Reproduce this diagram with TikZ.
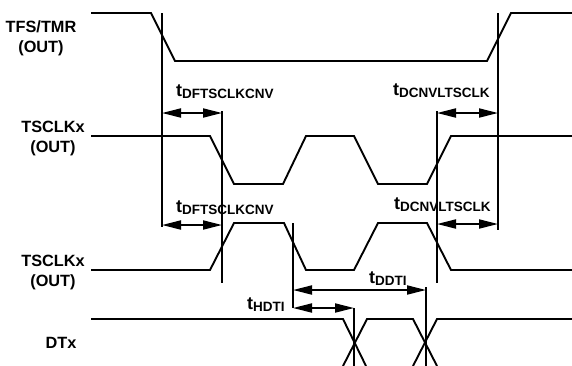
\documentclass[tikz,border=0pt]{standalone}
\usepackage{fontspec}
\setmainfont{Liberation Sans}
\usetikzlibrary{arrows.meta}
\newcommand\tsub[1]{t\raisebox{-2pt}{\fontsize{13.5}{15}\selectfont #1}}
\begin{document}
\begin{tikzpicture}[x=1pt,y=-1pt,
  wave/.style={line width=1.9pt,line join=miter},
  guide/.style={line width=1.3pt},
  dim/.style={line width=1.9pt,{Triangle[length=19pt,width=9pt]}-{Triangle[length=19pt,width=9pt]}},
  sig/.style={font=\bfseries\fontsize{16.3}{20}\selectfont,align=center},
  tlab/.style={font=\bfseries\fontsize{18}{19}\selectfont,anchor=base west,inner sep=0pt}]
\useasboundingbox (0,0) rectangle (572,365);
% signal names
\node[sig] (n1) at (41,38) {TFS/TMR\\(OUT)};
\node[sig] (n2) at (53,138) {TSCLKx\\(OUT)};
\node[sig] (n3) at (53,272) {TSCLKx\\(OUT)};
\node[sig] (n4) at (61,343) {DTx};
% waveforms
\draw[wave] (91,13) -- (151,13) -- (175,61) -- (487,61) -- (511,13) -- (572,13);
\draw[wave] (91,136) -- (210,136) -- (234,184) -- (283,184) -- (306,136) -- (354,136)
  -- (378,184) -- (427,184) -- (451,136) -- (572,136);
\draw[wave] (91,270) -- (210,270) -- (234,223) -- (284,223) -- (306,270) -- (354,270)
  -- (378,223) -- (427,223) -- (451,270) -- (572,270);
\draw[wave] (91,319) -- (343,319) -- (366,366);
\draw[wave] (343,366) -- (367,319) -- (413,319) -- (437,366);
\draw[wave] (413,366) -- (437,319) -- (572,319);
% guide lines
\coordinate (v1t) at (162,13);  \coordinate (v1b) at (162,227);
\coordinate (v2t) at (222,111); \coordinate (v2b) at (222,283);
\coordinate (v3t) at (437,111); \coordinate (v3b) at (437,283);
\coordinate (v4t) at (498,13);  \coordinate (v4b) at (498,230);
\coordinate (v5t) at (293,223); \coordinate (v5b) at (293,308);
\coordinate (v6t) at (354,308); \coordinate (v6b) at (354,366);
\coordinate (v7t) at (426,287); \coordinate (v7b) at (426,366);
\foreach \v in {1,...,7} \draw[guide] (v\v t) -- (v\v b);
% dimension arrows
\coordinate (a1l) at (162,113); \coordinate (a1r) at (222,113);
\coordinate (a2l) at (437,113); \coordinate (a2r) at (498,113);
\coordinate (a3l) at (162,225); \coordinate (a3r) at (222,225);
\coordinate (a4l) at (437,224); \coordinate (a4r) at (498,224);
\coordinate (a5l) at (293,290); \coordinate (a5r) at (426,290);
\coordinate (a6l) at (293,308); \coordinate (a6r) at (354,308);
\foreach \a in {1,...,6} \draw[dim] (a\a l) -- (a\a r);
% timing labels
\node[tlab] (l1) at (176,96) {\tsub{DFTSCLKCNV}};
\node[tlab] (l2) at (393,95) {\tsub{DCNVLTSCLK}};
\node[tlab] (l3) at (176,212) {\tsub{DFTSCLKCNV}};
\node[tlab] (l4) at (394,209) {\tsub{DCNVLTSCLK}};
\node[tlab] (l5) at (369,283) {\tsub{DDTI}};
\node[tlab] (l6) at (247,309) {\tsub{HDTI}};
\end{tikzpicture}
\end{document}
